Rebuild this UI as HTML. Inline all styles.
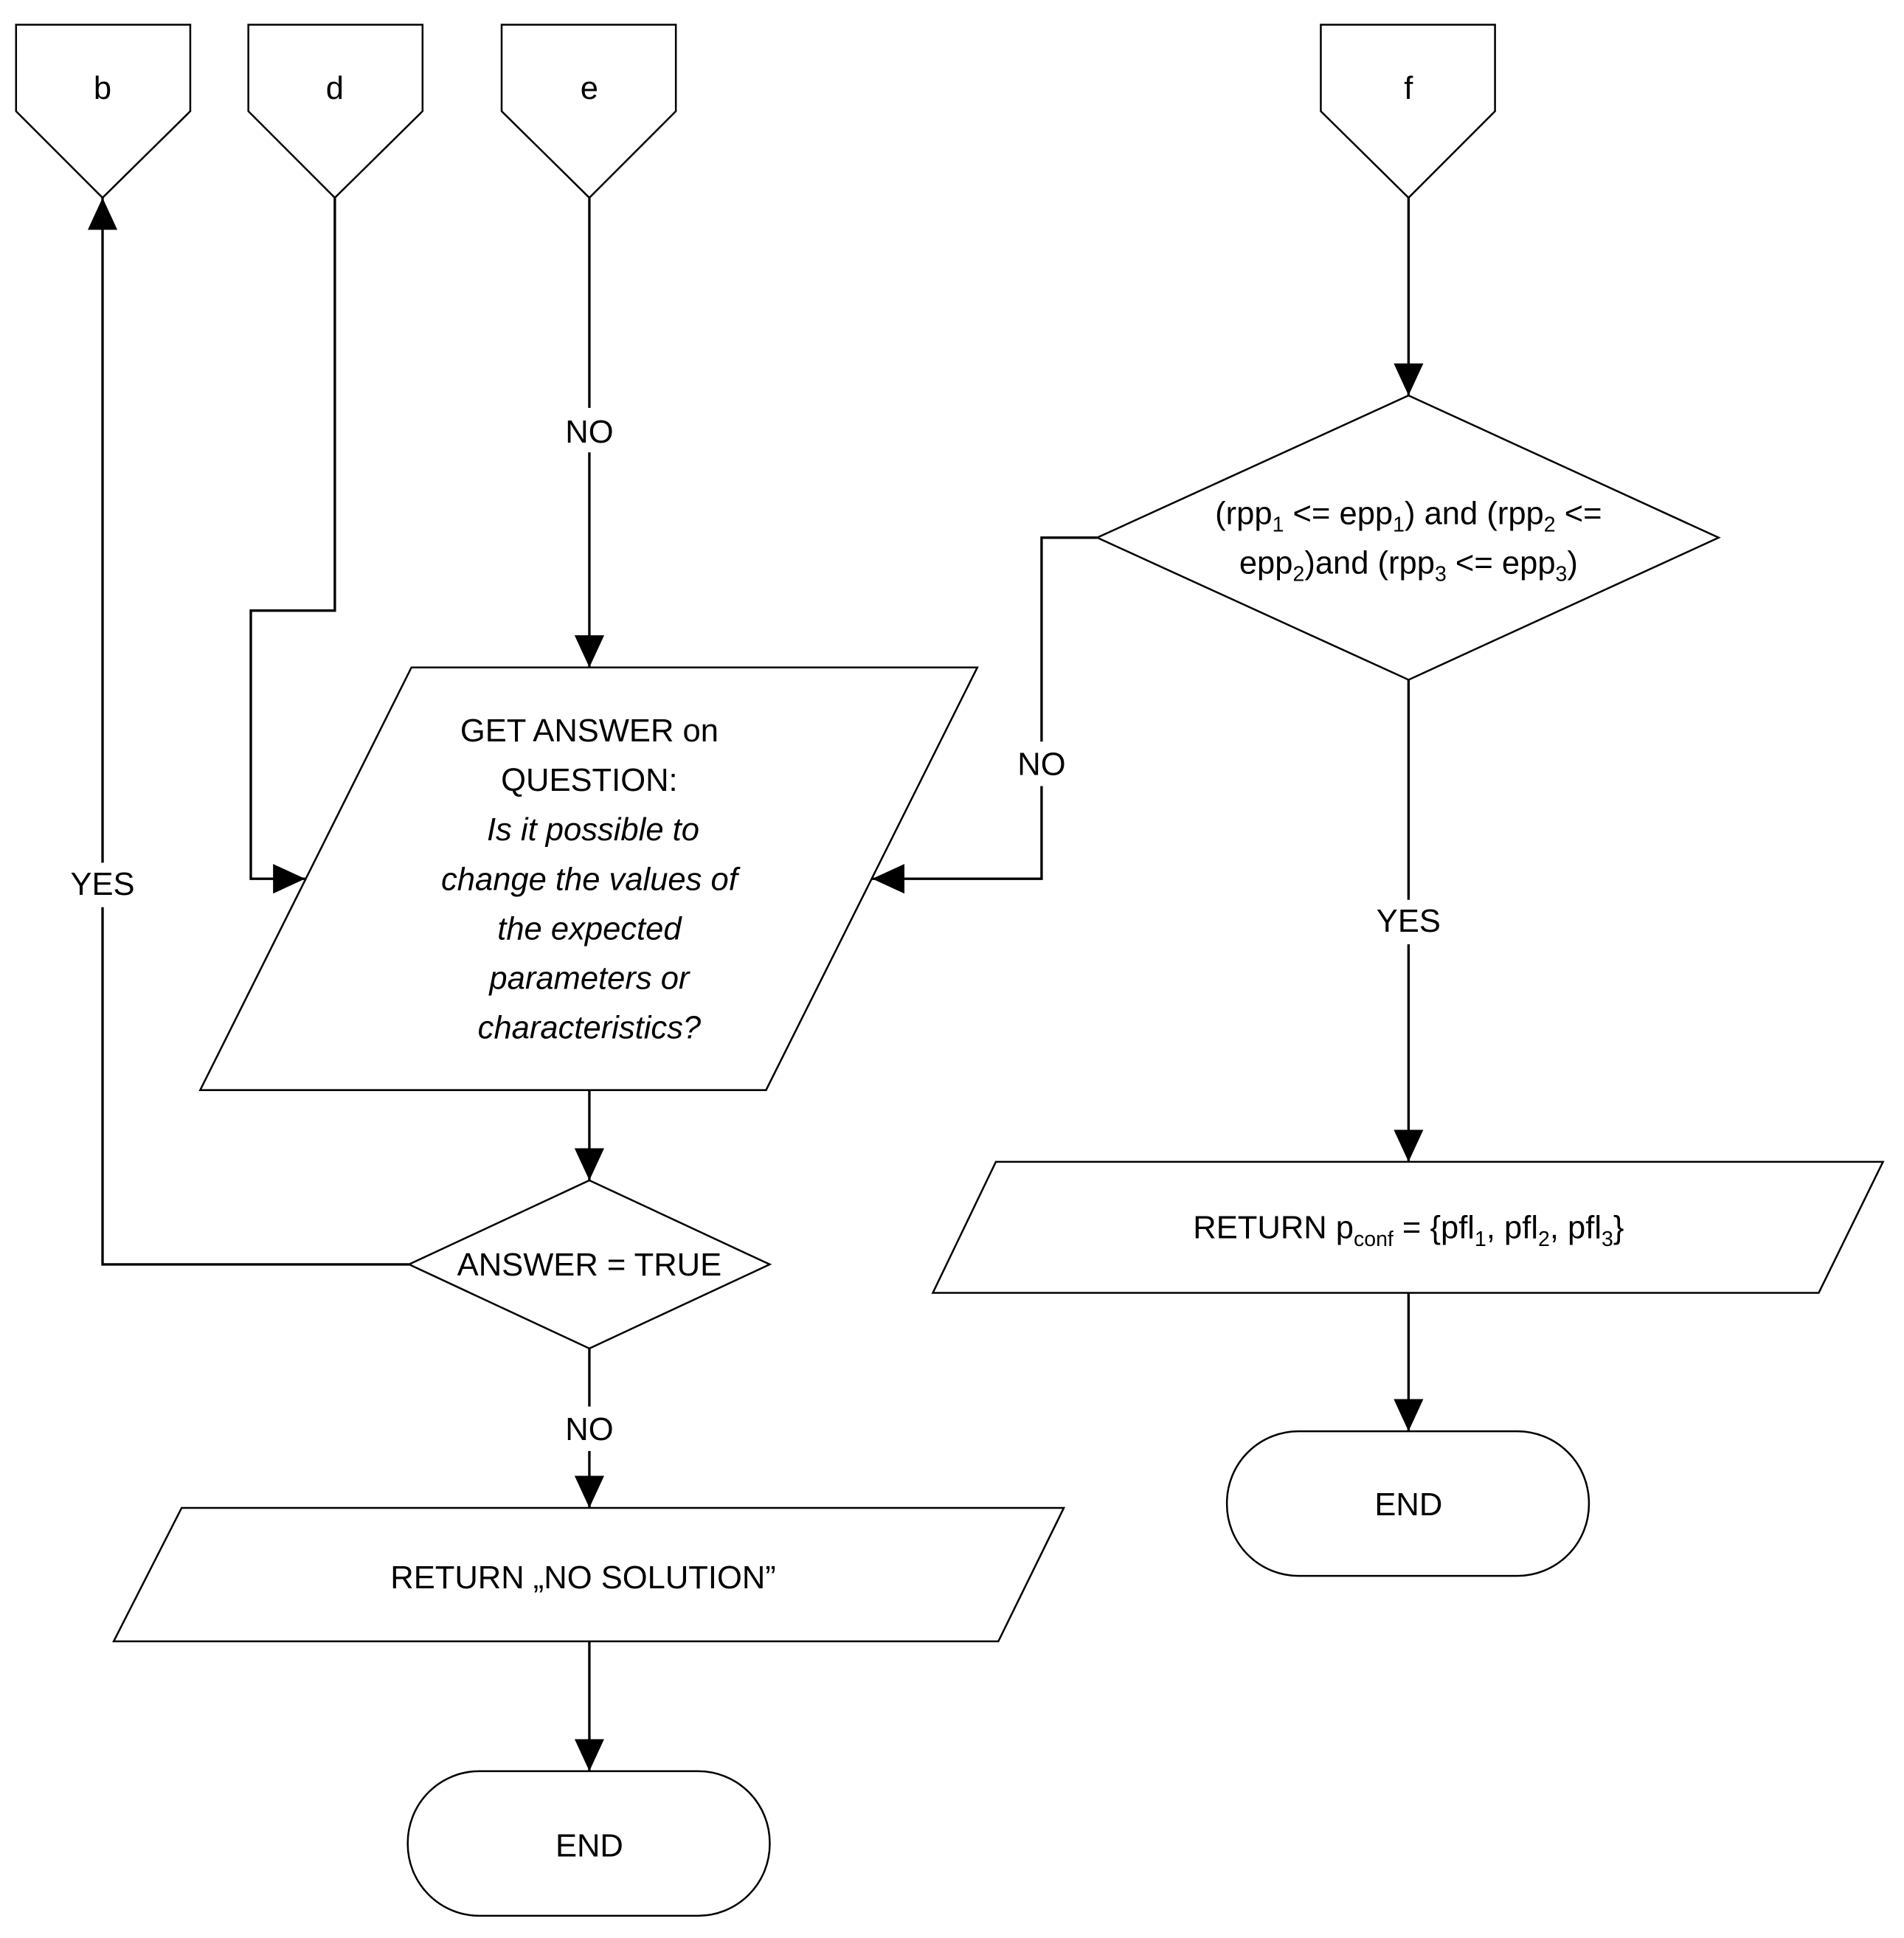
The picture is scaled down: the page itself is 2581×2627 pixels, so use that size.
<!DOCTYPE html>
<html><head><meta charset="utf-8"><style>
html,body{margin:0;padding:0;background:#fff;}
svg{display:block;}
text{font-family:"Liberation Sans",sans-serif;font-size:26px;fill:#000;}
</style></head><body>
<svg width="2581" height="2627" viewBox="0 0 1541 1568" preserveAspectRatio="none" xmlns="http://www.w3.org/2000/svg">
<defs>
<marker id="ar" markerWidth="26" markerHeight="24" refX="26" refY="12" orient="auto" markerUnits="userSpaceOnUse"><path d="M0,0 L26,12 L0,24 z" fill="#000"/></marker></defs>
<g fill="#fff" stroke="#000" stroke-width="1.5">
<path d="M13,20 H154 V90 L83,160 L13,90 Z"/>
<path d="M201,20 H342 V90 L271,160 L201,90 Z"/>
<path d="M406,20 H547 V90 L477,160 L406,90 Z"/>
<path d="M1069,20 H1210 V90 L1140,160 L1069,90 Z"/>
<path d="M333,540 L791,540 L620,882 L162,882 Z"/>
<path d="M477,955 L623,1023 L477,1091 L331,1023 Z"/>
<path d="M147,1220 L861,1220 L808,1328 L92,1328 Z"/>
<rect x="330" y="1433" width="293" height="117" rx="58"/>
<path d="M1140,320 L1391,435 L1140,550 L888,435 Z"/>
<path d="M806,940 L1524,940 L1472,1046 L755,1046 Z"/>
<rect x="993" y="1158" width="293" height="117" rx="58"/>
</g>
<g fill="none" stroke="#000" stroke-width="2">
<path d="M331,1023 H83 V160" marker-end="url(#ar)"/>
<path d="M271,160 V494 H203 V711 H247" marker-end="url(#ar)"/>
<path d="M477,160 V540" marker-end="url(#ar)"/>
<path d="M477,882 V955" marker-end="url(#ar)"/>
<path d="M477,1091 V1220" marker-end="url(#ar)"/>
<path d="M477,1328 V1433" marker-end="url(#ar)"/>
<path d="M1140,160 V320" marker-end="url(#ar)"/>
<path d="M888,435 H843 V711 H706" marker-end="url(#ar)"/>
<path d="M1140,550 V940" marker-end="url(#ar)"/>
<path d="M1140,1046 V1158" marker-end="url(#ar)"/>
</g>
<g text-anchor="middle">
<text x="83" y="80">b</text><text x="271" y="80">d</text><text x="477" y="80">e</text><text x="1140" y="80">f</text>
<rect x="450" y="330" width="54" height="36" fill="#fff"/><text x="477" y="358">NO</text>
<rect x="50" y="698" width="66" height="36" fill="#fff"/><text x="83" y="724">YES</text>
<rect x="815" y="600" width="56" height="36" fill="#fff"/><text x="843" y="627">NO</text>
<rect x="1105" y="728" width="70" height="36" fill="#fff"/><text x="1140" y="754">YES</text>
<rect x="450" y="1138" width="54" height="36" fill="#fff"/><text x="477" y="1165">NO</text>
<text x="477" y="600">GET ANSWER on</text>
<text x="477" y="640">QUESTION:</text>
<text x="480" y="680" font-style="italic">Is it possible to</text>
<text x="477" y="720" font-style="italic">change the values of</text>
<text x="477" y="760" font-style="italic">the expected</text>
<text x="477" y="800" font-style="italic">parameters or</text>
<text x="477" y="840" font-style="italic">characteristics?</text>
<text x="477" y="1032">ANSWER = TRUE</text>
<text x="472" y="1285">RETURN „NO SOLUTION”</text>
<text x="477" y="1502">END</text>
<text x="1140" y="424" font-size="27">(rpp<tspan font-size="17" dy="6">1</tspan><tspan dy="-6"> &lt;= epp</tspan><tspan font-size="17" dy="6">1</tspan><tspan dy="-6">) and (rpp</tspan><tspan font-size="17" dy="6">2</tspan><tspan dy="-6"> &lt;=</tspan></text>
<text x="1140" y="464" font-size="27">epp<tspan font-size="17" dy="6">2</tspan><tspan dy="-6">)and (rpp</tspan><tspan font-size="17" dy="6">3</tspan><tspan dy="-6"> &lt;= epp</tspan><tspan font-size="17" dy="6">3</tspan><tspan dy="-6">)</tspan></text>
<text x="1140" y="1002" font-size="27">RETURN p<tspan font-size="17" dy="6">conf</tspan><tspan dy="-6">  = {pfl</tspan><tspan font-size="17" dy="6">1</tspan><tspan dy="-6">, pfl</tspan><tspan font-size="17" dy="6">2</tspan><tspan dy="-6">, pfl</tspan><tspan font-size="17" dy="6">3</tspan><tspan dy="-6">}</tspan></text>
<text x="1140" y="1226">END</text>
</g>
</svg>
</body></html>
